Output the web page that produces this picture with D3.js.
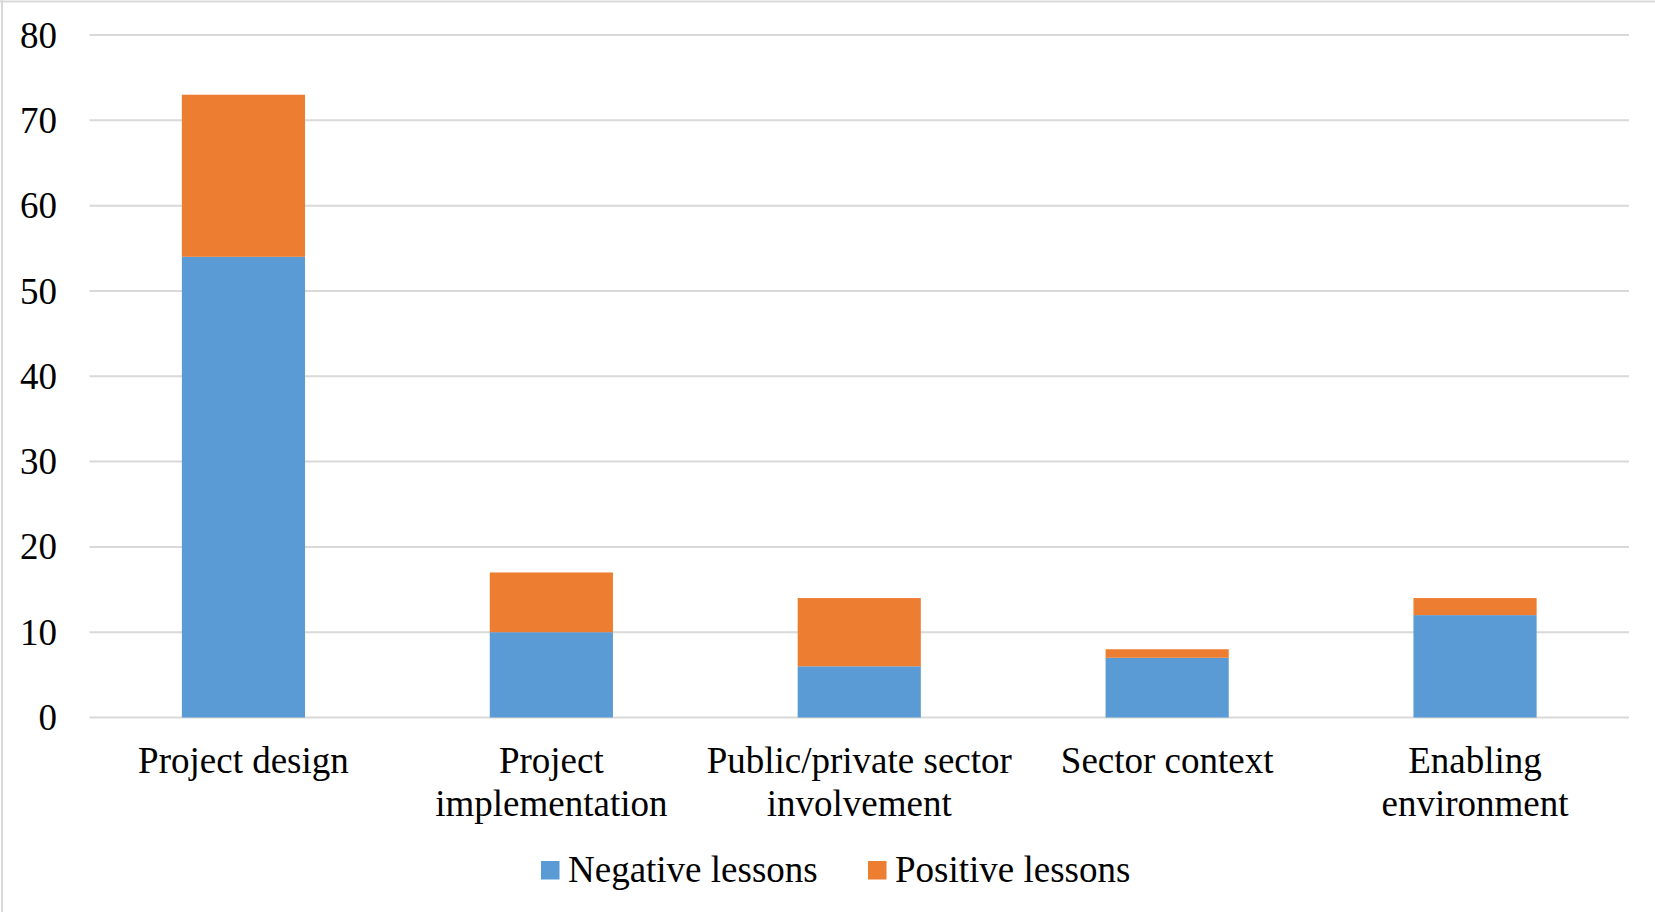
<!DOCTYPE html>
<html>
<head>
<meta charset="utf-8">
<script src="https://cdnjs.cloudflare.com/ajax/libs/d3/7.8.5/d3.min.js"></script>
<style>
  html, body { margin: 0; padding: 0; background: #fff; }
  svg text { font-family: "Liberation Serif", "Times New Roman", serif; fill: #000; }
</style>
</head>
<body>
<div id="chart"></div>
<script>
var categories = [
  ['Project design'],
  ['Project', 'implementation'],
  ['Public/private sector', 'involvement'],
  ['Sector context'],
  ['Enabling', 'environment']
]
var negative = [54, 10, 6, 7, 12]
var positive = [19, 7, 8, 1, 2]
var yTicks = [0, 10, 20, 30, 40, 50, 60, 70, 80]
var seriesNames = ['Negative lessons', 'Positive lessons']
var colors = ['#5B9BD5', '#ED7D31']

var W = 1655, H = 912
var plotL = 89.5, plotR = 1629, plotT = 35, plotB = 717.5

var svg = d3.select('#chart').append('svg').attr('width', W).attr('height', H)

// outer frame (top + left visible only)
svg.append('line').attr('x1', 0).attr('x2', W).attr('y1', 1.5).attr('y2', 1.5)
  .attr('stroke', '#d9d9d9').attr('stroke-width', 2)
svg.append('line').attr('x1', 2).attr('x2', 2).attr('y1', 0).attr('y2', H)
  .attr('stroke', '#d9d9d9').attr('stroke-width', 2)

var x = d3.scaleBand().domain(d3.range(categories.length)).range([plotL, plotR]).paddingInner(0.6).paddingOuter(0.3)
var y = d3.scaleLinear().domain([0, 80]).range([plotB, plotT])

// gridlines
svg.append('g').selectAll('line').data(yTicks).enter().append('line')
  .attr('x1', plotL).attr('x2', plotR)
  .attr('y1', function (d) { return y(d) }).attr('y2', function (d) { return y(d) })
  .attr('stroke', '#d9d9d9').attr('stroke-width', 2)

// y labels
svg.append('g').selectAll('text').data(yTicks).enter().append('text')
  .attr('x', 57).attr('y', function (d) { return y(d) })
  .attr('dy', '0.34em')
  .attr('text-anchor', 'end').attr('font-size', '37px')
  .text(function (d) { return d })

// stacked bars
var rows = categories.map(function (c, i) { return { i: i, neg: negative[i], pos: positive[i] } })
var stack = d3.stack().keys(['neg', 'pos'])(rows)

svg.append('g').selectAll('g').data(stack).enter().append('g')
  .attr('fill', function (d, k) { return colors[k] })
  .selectAll('rect').data(function (d) { return d }).enter().append('rect')
  .attr('x', function (d) { return x(d.data.i) })
  .attr('width', x.bandwidth())
  .attr('y', function (d) { return y(d[1]) })
  .attr('height', function (d) { return y(d[0]) - y(d[1]) })

// x labels
var xl = svg.append('g').selectAll('text').data(categories).enter().append('text')
  .attr('text-anchor', 'middle').attr('font-size', '37px')
  .attr('transform', function (d, i) { return 'translate(' + (x(i) + x.bandwidth() / 2) + ',773)' })
xl.selectAll('tspan').data(function (d) { return d }).enter().append('tspan')
  .attr('x', 0).attr('y', function (d, j) { return j * 43 })
  .text(function (d) { return d })

// legend
var legX = [541, 868]
var leg = svg.append('g').selectAll('g').data(seriesNames).enter().append('g')
  .attr('transform', function (d, i) { return 'translate(' + legX[i] + ',861)' })
leg.append('rect').attr('width', 18.5).attr('height', 18.5)
  .attr('fill', function (d, i) { return colors[i] })
leg.append('text').attr('x', 27).attr('y', 20.5).attr('font-size', '37px')
  .text(function (d) { return d })
</script>
</body>
</html>
